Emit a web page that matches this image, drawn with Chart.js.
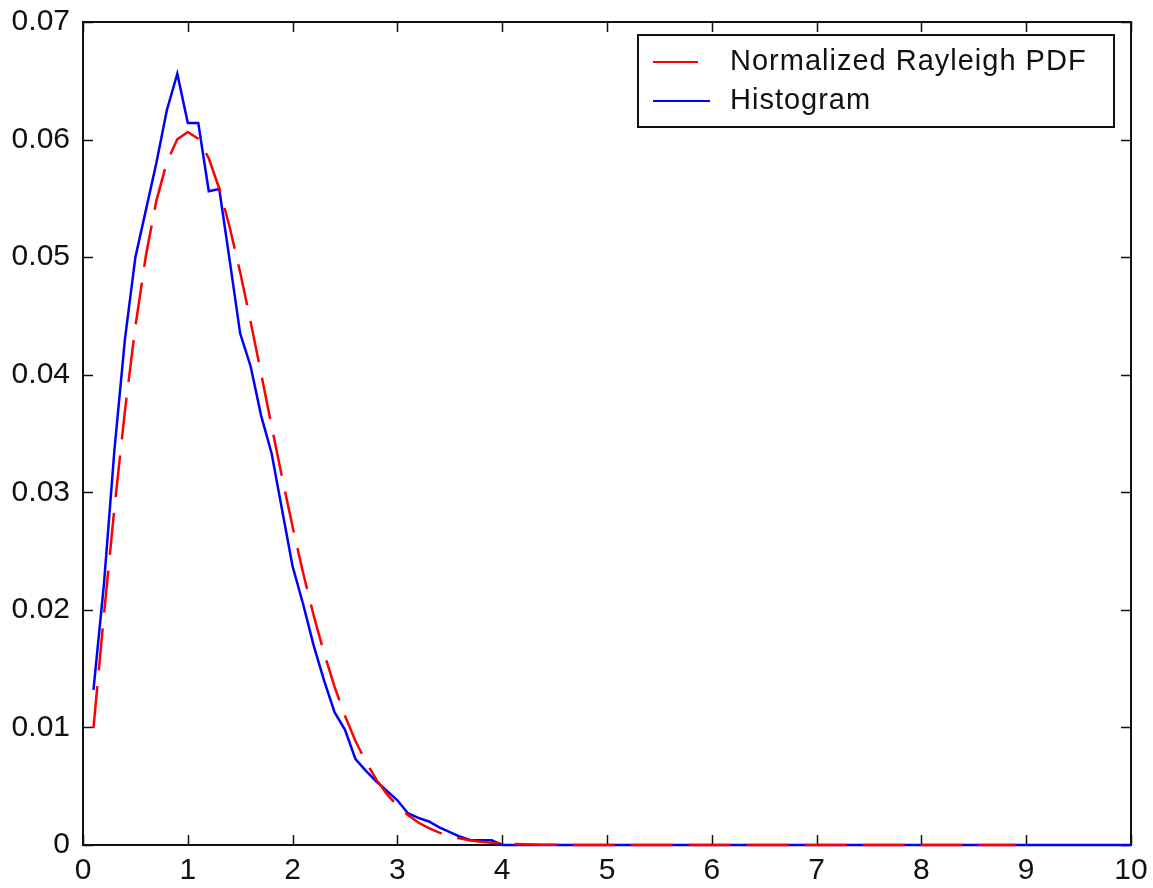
<!DOCTYPE html>
<html>
<head>
<meta charset="utf-8">
<title>Rayleigh PDF vs Histogram</title>
<script src="https://cdn.jsdelivr.net/npm/chart.js@4/dist/chart.umd.min.js"></script>
<style>
  html, body { margin: 0; padding: 0; background: #fff; }
  canvas { display: block; }
</style>
</head>
<body>
<canvas id="plot" width="1153" height="888"></canvas>
<script>
// histogram of the simulated envelope (bin centres, normalized counts)
const histX = [0.1, 0.2, 0.3, 0.4, 0.5, 0.6, 0.7, 0.8, 0.9, 1.0,
  1.1, 1.2, 1.3, 1.4, 1.5, 1.6, 1.7, 1.8, 1.9, 2.0,
  2.1, 2.2, 2.3, 2.4, 2.5, 2.6, 2.7, 2.8, 2.9, 3.0,
  3.1, 3.2, 3.3, 3.4, 3.5, 3.6, 3.7, 3.8, 3.9, 4.0, 10];
const histY = [0.0132, 0.0222, 0.0336, 0.0430, 0.0500, 0.0540, 0.0580, 0.0625, 0.0656, 0.0614,
  0.0614, 0.0556, 0.0558, 0.0497, 0.0435, 0.0407, 0.0365, 0.0333, 0.0285, 0.0237,
  0.0205, 0.0170, 0.0140, 0.0113, 0.0098, 0.0073, 0.0063, 0.0054, 0.0046, 0.0038,
  0.0027, 0.0023, 0.0020, 0.0015, 0.0011, 0.0007, 0.0004, 0.0004, 0.0004, 0, 0];

// theoretical Rayleigh pdf (sigma = 1) scaled by the bin width
const pdfX = [0.1, 0.2, 0.3, 0.4, 0.5, 0.6, 0.7, 0.8, 0.9, 1.0,
  1.1, 1.2, 1.3, 1.4, 1.5, 1.6, 1.7, 1.8, 1.9, 2.0,
  2.1, 2.2, 2.3, 2.4, 2.5, 2.6, 2.7, 2.8, 2.9, 3.0,
  3.1, 3.2, 3.3, 3.4, 3.5, 3.6, 3.7, 3.8, 3.9, 4.0,
  4.1, 4.2, 4.3, 4.4, 4.5, 4.6, 8.9];
const pdfY = [0.00995, 0.01960, 0.02868, 0.03692, 0.04412, 0.05012, 0.05479, 0.05809, 0.06003, 0.06065,
  0.06007, 0.05841, 0.05584, 0.05254, 0.04870, 0.04449, 0.04008, 0.03562, 0.03125, 0.02707,
  0.02315, 0.01956, 0.01633, 0.01347, 0.01098, 0.00885, 0.00705, 0.00556, 0.00433, 0.00333,
  0.00254, 0.00191, 0.00143, 0.00105, 0.00077, 0.00055, 0.00039, 0.00028, 0.00019, 0.00013,
  0.00009, 0.00006, 0.00004, 0.00003, 0.00002, 0.00001, 0];

const xTicks = [0, 1, 2, 3, 4, 5, 6, 7, 8, 9, 10];
const yTicks = [0, 0.01, 0.02, 0.03, 0.04, 0.05, 0.06, 0.07];
const yTickLabels = ["0", "0.01", "0.02", "0.03", "0.04", "0.05", "0.06", "0.07"];
const seriesNames = ["Normalized Rayleigh PDF", "Histogram"];

const FONT = "'Liberation Sans', Arial, sans-serif";
const toPoints = (xs, ys) => xs.map((x, i) => ({ x: x, y: ys[i] }));

// box around the axes with matlab-style inward ticks on every side
const axesFrame = {
  id: "axesFrame",
  beforeDatasetsDraw(chart) {
    const { ctx, chartArea: a, scales } = chart;
    const tl = 10;
    ctx.save();
    ctx.strokeStyle = "#111";
    ctx.lineWidth = 2;
    ctx.strokeRect(a.left, a.top, a.right - a.left, a.bottom - a.top);
    ctx.lineWidth = 1.5;
    ctx.beginPath();
    xTicks.forEach(v => {
      const px = Math.round(scales.x.getPixelForValue(v)) + 0.5;
      ctx.moveTo(px, a.bottom); ctx.lineTo(px, a.bottom - tl);
      ctx.moveTo(px, a.top); ctx.lineTo(px, a.top + tl);
    });
    yTicks.forEach(v => {
      const py = Math.round(scales.y.getPixelForValue(v)) + 0.5;
      ctx.moveTo(a.left, py); ctx.lineTo(a.left + tl, py);
      ctx.moveTo(a.right, py); ctx.lineTo(a.right - tl, py);
    });
    ctx.stroke();
    ctx.restore();
  }
};

// legend box in the upper right corner
const boxLegend = {
  id: "boxLegend",
  afterDraw(chart) {
    const ctx = chart.ctx;
    const x0 = 638, y0 = 35, w = 476, h = 92;
    ctx.save();
    ctx.fillStyle = "#fff";
    ctx.fillRect(x0, y0, w, h);
    ctx.strokeStyle = "#111";
    ctx.lineWidth = 2;
    ctx.strokeRect(x0, y0, w, h);
    const ds = chart.data.datasets;
    const rows = [62, 101];
    ctx.font = "29px " + FONT;
    ctx.letterSpacing = "1px";
    ctx.textBaseline = "middle";
    ctx.fillStyle = "#111";
    rows.forEach((ry, i) => {
      ctx.strokeStyle = ds[i].borderColor;
      ctx.lineWidth = 2;
      ctx.beginPath();
      ctx.moveTo(653, ry);
      ctx.lineTo(i === 0 ? 698 : 710, ry);
      ctx.stroke();
      ctx.fillText(seriesNames[i], 730, ry);
    });
    ctx.restore();
  }
};

new Chart(document.getElementById("plot"), {
  type: "line",
  data: {
    datasets: [
      {
        label: seriesNames[0],
        data: toPoints(pdfX, pdfY),
        borderColor: "#ff0000",
        borderWidth: 2.5,
        borderDash: [42, 16],
        clip: false,
        order: 0
      },
      {
        label: seriesNames[1],
        data: toPoints(histX, histY),
        borderColor: "#0000ff",
        borderWidth: 2.5,
        clip: false,
        order: 1
      }
    ]
  },
  options: {
    responsive: false,
    animation: false,
    events: [],
    layout: { padding: { top: 22, right: 22, left: 0, bottom: 0 } },
    elements: {
      point: { radius: 0 },
      line: { tension: 0, fill: false }
    },
    plugins: {
      legend: { display: false },
      tooltip: { enabled: false }
    },
    scales: {
      x: {
        type: "linear",
        min: 0,
        max: 10,
        afterBuildTicks: s => { s.ticks = xTicks.map(v => ({ value: v })); },
        afterFit: s => { s.height = 43; },
        grid: { display: false, drawTicks: false },
        border: { display: false },
        ticks: {
          padding: 0,
          color: "#111",
          maxRotation: 0,
          font: { family: FONT, size: 30, lineHeight: 1.73 },
          callback: v => String(v)
        }
      },
      y: {
        type: "linear",
        min: 0,
        max: 0.07,
        afterBuildTicks: s => { s.ticks = yTicks.map(v => ({ value: v })); },
        afterFit: s => { s.width = 83; },
        grid: { display: false, drawTicks: false },
        border: { display: false },
        ticks: {
          padding: 13,
          color: "#111",
          font: { family: FONT, size: 30, lineHeight: 0.4 },
          callback: v => yTickLabels[yTicks.findIndex(t => Math.abs(t - v) < 1e-9)]
        }
      }
    }
  },
  plugins: [axesFrame, boxLegend]
});
</script>
</body>
</html>
